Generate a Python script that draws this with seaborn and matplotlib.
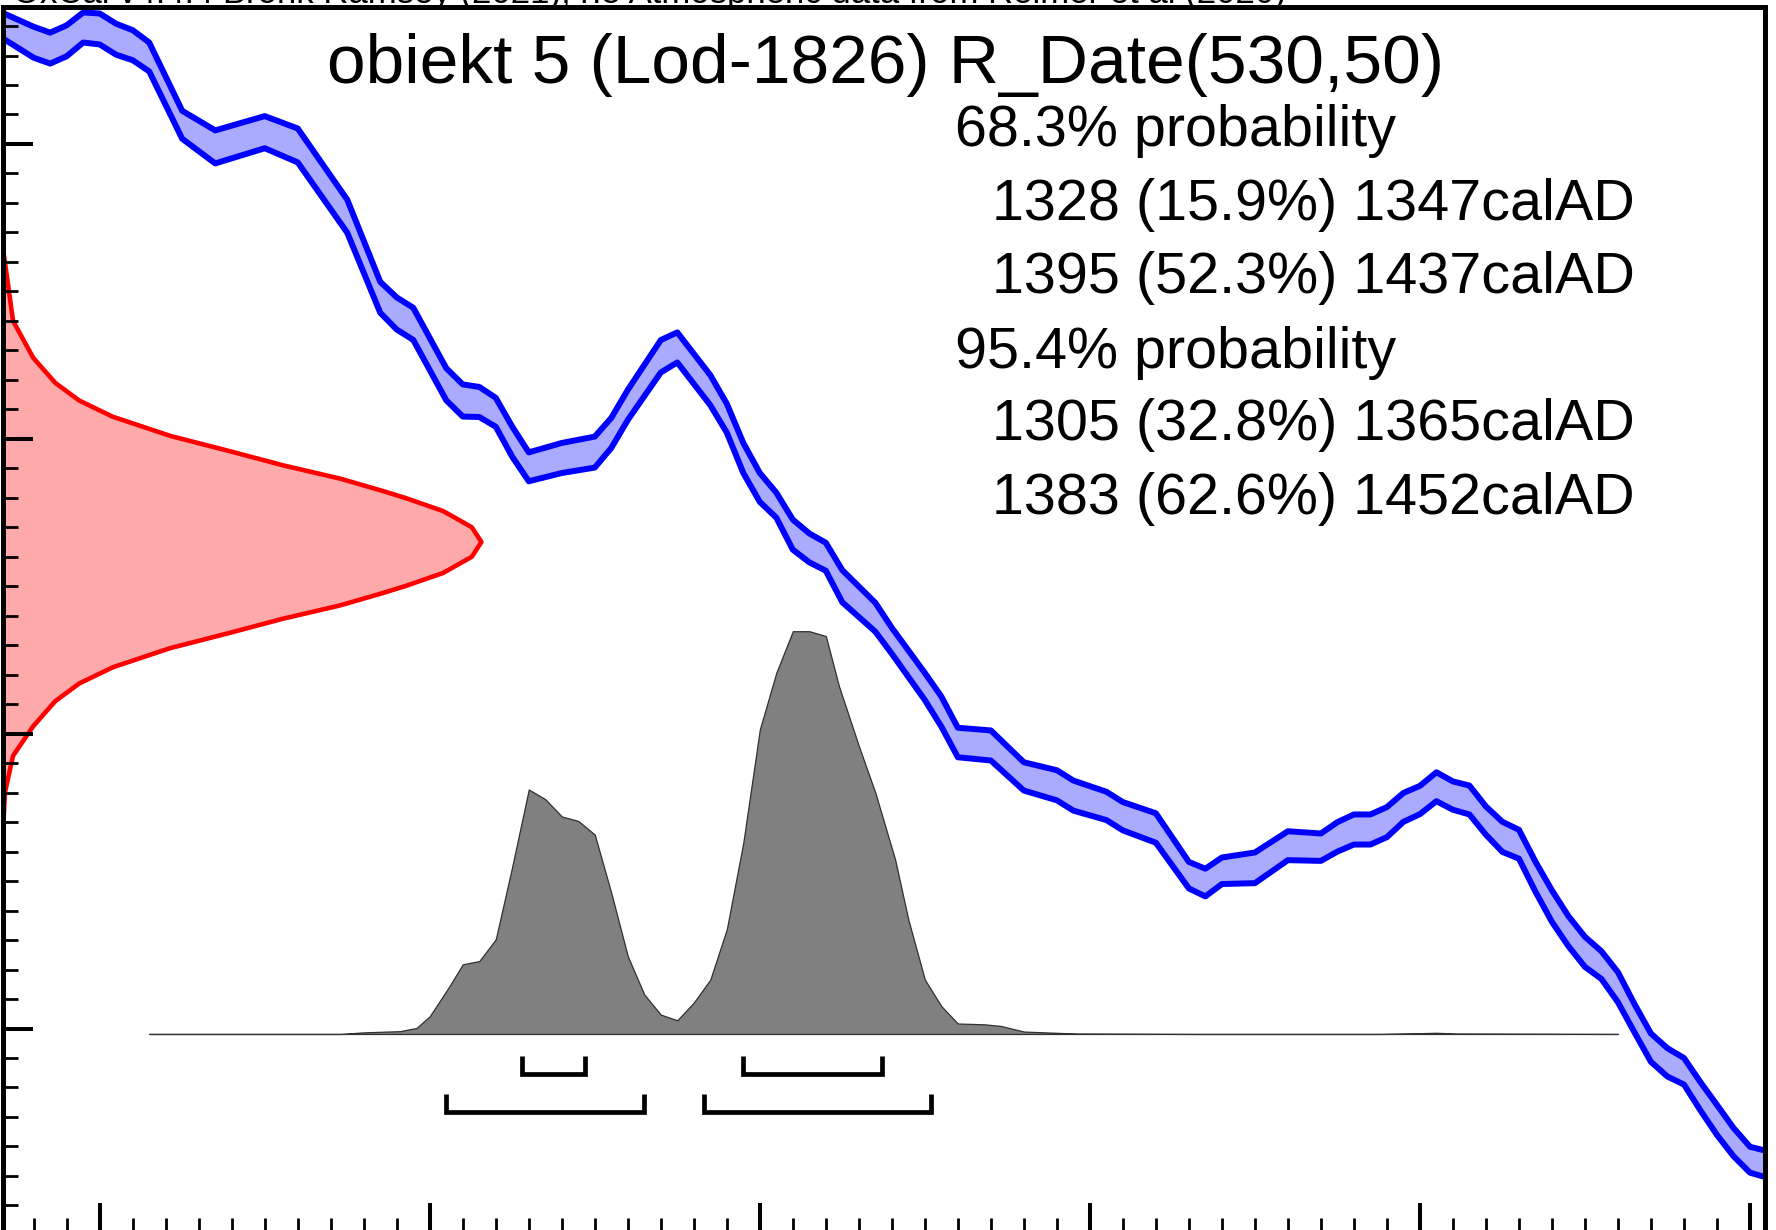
"""
OxCal-style calibration plot for obiekt 5 (Lod-1826), R_Date(530,50).
Values read off the reference picture.
"""
import matplotlib
matplotlib.use("Agg")
import matplotlib.pyplot as plt
from matplotlib.ticker import MultipleLocator
import seaborn as sns
import numpy as np

# ── calibration curve (cal AD, 14C BP, 1 sigma) ────────────────────
curve_year = [1170, 1180, 1185, 1190, 1195, 1200, 1205, 1210, 1215, 1225,
              1235, 1250, 1260, 1275, 1285, 1290, 1295, 1305, 1310, 1315,
              1320, 1325, 1330, 1340, 1350, 1355, 1360, 1370, 1375, 1385,
              1390, 1395, 1400, 1405, 1410, 1415, 1420, 1425, 1435, 1440,
              1450, 1455, 1460, 1470, 1480, 1490, 1495, 1505, 1510, 1520,
              1530, 1535, 1540, 1550, 1560, 1570, 1575, 1580, 1585, 1590,
              1595, 1600, 1605, 1610, 1615, 1620, 1625, 1630, 1635, 1640,
              1645, 1650, 1655, 1660, 1665, 1670, 1675, 1680, 1685, 1690,
              1695, 1700, 1705]
curve_bp = [881, 869, 865, 870, 879, 878, 871, 867, 859, 813,
            798, 808, 799, 751, 696, 685, 678, 637, 626, 625,
            618, 598, 581, 587, 591, 604, 623, 656, 662, 633,
            614, 587, 567, 555, 535, 526, 520, 500, 479, 463,
            432, 415, 394, 392, 371, 365, 358, 351, 344, 336,
            304, 299, 307, 309, 324, 323, 330, 335, 335, 340,
            350, 355, 364, 358, 355, 341, 330, 325, 303, 283,
            266, 252, 243, 228, 207, 187, 177, 171, 154, 138,
            123, 111, 108]
curve_sigma = [8.5, 10.5, 10.5, 10.5, 10.2, 10.5, 10.5, 10.2, 9.8, 9.5,
               11.2, 10.9, 11.5, 11.2, 10.5, 10.9, 10.9, 10.9, 10.9, 10.2,
               9.8, 10.2, 9.8, 10.2, 10.5, 10.2, 10.2, 11.0, 10.2, 10.2,
               9.8, 10.2, 9.8, 8.5, 10.2, 9.8, 9.5, 10.9, 9.8, 8.8,
               9.2, 10.2, 10.0, 10.2, 9.6, 10.2, 10.2, 9.6, 9.6, 10.0,
               9.0, 9.4, 9.0, 10.4, 9.8, 9.3, 10.0, 10.2, 10.2, 10.2,
               9.8, 9.6, 9.8, 9.6, 9.8, 9.6, 10.2, 9.8, 10.2, 10.7,
               10.2, 10.2, 9.4, 10.2, 9.6, 9.6, 9.6, 9.0, 9.6, 10.2,
               9.6, 8.8, 9.0]

# ── radiocarbon measurement (BP, relative density) ─────────────────
rc_bp = [730, 720, 680, 655, 638, 626, 615, 602, 592, 582, 573, 565, 560,
         551, 540, 530, 520, 509, 500, 495, 487, 478, 468, 458, 445, 434,
         422, 405, 385, 360, 340, 330]
rc_prob = [0.0, 0.005, 0.022, 0.064, 0.11, 0.16, 0.23, 0.35, 0.47, 0.586,
           0.705, 0.79, 0.84, 0.92, 0.98, 1.0, 0.98, 0.92, 0.84, 0.79,
           0.705, 0.586, 0.47, 0.35, 0.23, 0.16, 0.11, 0.064, 0.022,
           0.005, 0.002, 0.0]

# ── calibrated distribution (cal AD, relative density) ─────────────
post_year = [1215, 1273, 1280, 1291, 1296, 1300, 1306, 1310, 1315, 1320,
             1325, 1330, 1335, 1340, 1345, 1350, 1355, 1360, 1365, 1370,
             1375, 1380, 1385, 1390, 1395, 1400, 1405, 1410, 1415, 1420,
             1424, 1430, 1435, 1441, 1445, 1450, 1455, 1460, 1468, 1473,
             1480, 1496, 1533, 1588, 1600, 1605, 1611, 1660]
post_prob = [0, 0, 0.004, 0.007, 0.015, 0.044, 0.119, 0.173, 0.181, 0.235,
             0.416, 0.607, 0.583, 0.540, 0.529, 0.495, 0.350, 0.193, 0.098, 0.048,
             0.034, 0.078, 0.135, 0.26, 0.475, 0.756, 0.897, 1.0, 1.0, 0.988,
             0.863, 0.715, 0.599, 0.433, 0.284, 0.135, 0.069, 0.026, 0.024, 0.02,
             0.006, 0.001, 0, 0, 0.002, 0.003, 0.001, 0]

# ── highest posterior density ranges ───────────────────────────────
hpd68 = [(1328, 1347), (1395, 1437)]
hpd95 = [(1305, 1365), (1383, 1452)]

title = "obiekt 5 (Lod-1826) R_Date(530,50)"
summary = [
    ("68.3% probability", False),
    ("1328 (15.9%) 1347calAD", True),
    ("1395 (52.3%) 1437calAD", True),
    ("95.4% probability", False),
    ("1305 (32.8%) 1365calAD", True),
    ("1383 (62.6%) 1452calAD", True),
]
header = "OxCal v4.4.4 Bronk Ramsey (2021); r:5 Atmospheric data from Reimer et al (2020)"

# layout
W, H = 1776, 1230
XLIM = (1170.55, 1704.55)
YLIM = (61.3, 892.9)
RC_WIDTH = 145.1          # years spanned by the peak of the measurement
POST_BASE, POST_HEIGHT = 196.3, 273.2
ROW68, ROW95, BRACKET_H = 169.3, 143.2, 12.3

sns.set_theme(style="white")
plt.rcParams["font.family"] = ["Liberation Sans", "DejaVu Sans"]

fig = plt.figure(figsize=(W / 100, H / 100), dpi=100)
ax = fig.add_axes([2.5 / W, -3 / H, (1765 - 2.5) / W, (1233 - 7) / H])
ax.set_xlim(*XLIM)
ax.set_ylim(*YLIM)
ax.set_axisbelow(False)

# calibration curve band
yr = np.array(curve_year, float)
bp = np.array(curve_bp, float)
sg = np.array(curve_sigma, float)
ax.fill_between(yr, bp - sg, bp + sg, color="#aaaaff", lw=0, zorder=2)
for edge in (bp + sg, bp - sg):
    sns.lineplot(x=yr, y=edge, ax=ax, color="#0000ff", lw=4.3,
                 estimator=None, sort=False, zorder=3)

# measurement on the y axis
rx = XLIM[0] + np.array(rc_prob) * RC_WIDTH
ax.fill_betweenx(rc_bp, XLIM[0], rx, color="#ffaaaa", lw=0, zorder=1.5)
sns.lineplot(x=rx, y=rc_bp, ax=ax, color="#ff0000", lw=3.3,
             estimator=None, sort=False, zorder=1.8)

# calibrated distribution
py = POST_BASE + np.array(post_prob) * POST_HEIGHT
ax.fill_between(post_year, POST_BASE, py, facecolor="#808080",
                edgecolor="#303030", lw=0.9, zorder=2)

# range brackets
for ranges, row in ((hpd68, ROW68), (hpd95, ROW95)):
    for a, b in ranges:
        ax.plot([a, a, b, b], [row + BRACKET_H, row, row, row + BRACKET_H],
                color="black", lw=3.4, solid_joinstyle="miter",
                solid_capstyle="butt", zorder=4)

# axes styling
for s in ax.spines.values():
    s.set_visible(True)
    s.set_color("black")
    s.set_linewidth(3.6)
    s.set_zorder(5)
ax.xaxis.set_major_locator(MultipleLocator(100))
ax.xaxis.set_minor_locator(MultipleLocator(10))
ax.yaxis.set_major_locator(MultipleLocator(200))
ax.yaxis.set_minor_locator(MultipleLocator(20))
ax.tick_params(which="both", direction="in", bottom=True, left=True,
               top=False, right=False, labelbottom=False, labelleft=False,
               color="black")
ax.tick_params(which="major", length=21.5, width=2.9)
ax.tick_params(which="minor", length=10.5, width=2.0)
ax.set_xlabel("")
ax.set_ylabel("")
ax.grid(False)

# texts
fig.text(885 / W, 1 - 83 / H, title, ha="center", va="baseline",
         fontsize=50, color="black")
baselines = [146, 220, 293, 368, 440, 514]
for (txt, indent), yb in zip(summary, baselines):
    x0 = 992 if indent else 955
    fig.text(x0 / W, 1 - yb / H, txt, ha="left", va="baseline",
             fontsize=41.4, color="black")
fig.text(1286 / W, 1 - 3 / H, header, ha="right", va="baseline",
         fontsize=25, color="black")

fig.savefig("out.png", dpi=100, facecolor="white")
